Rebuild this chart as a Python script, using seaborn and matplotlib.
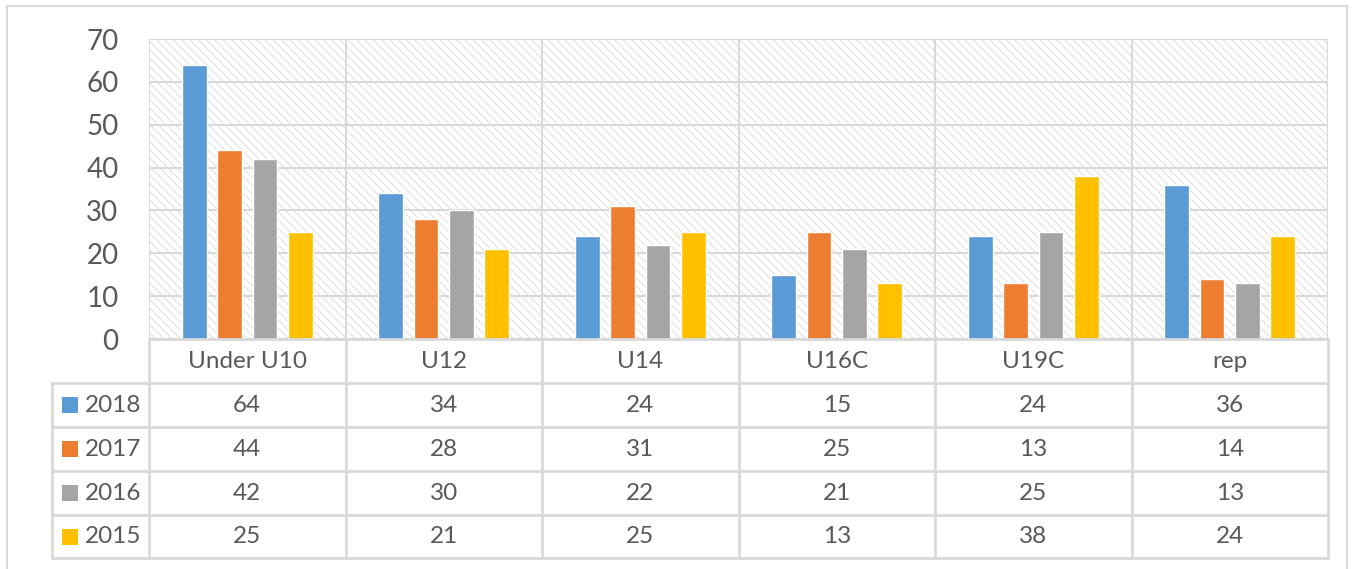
import matplotlib
matplotlib.use("Agg")
import matplotlib.pyplot as plt
import matplotlib.transforms as mtransforms
from matplotlib.patches import Rectangle
from matplotlib.lines import Line2D
import seaborn as sns
import pandas as pd

categories = ["Under U10", "U12", "U14", "U16C", "U19C", "rep"]
years = ["2018", "2017", "2016", "2015"]
v2018 = [64, 34, 24, 15, 24, 36]
v2017 = [44, 28, 31, 25, 13, 14]
v2016 = [42, 30, 22, 21, 25, 13]
v2015 = [25, 21, 25, 13, 38, 24]
colors = ["#5B9BD5", "#ED7D31", "#A5A5A5", "#FFC000"]

series = {"2018": v2018, "2017": v2017, "2016": v2016, "2015": v2015}
rows = []
for yr in years:
    for cat, val in zip(categories, series[yr]):
        rows.append({"group": cat, "year": yr, "count": val})
df = pd.DataFrame(rows)

sns.set_style("white")
plt.rcParams["font.family"] = ["Lato", "DejaVu Sans"]
plt.rcParams["hatch.color"] = "#d9d9d9"
plt.rcParams["hatch.linewidth"] = 0.6

W, H = 1357, 569
fig = plt.figure(figsize=(W / 100, H / 100), dpi=100)
grid_c = "#d9d9d9"
text_c = "#595959"

# plot area in pixels
left, right, top, bottom = 149, 1328, 39, 339
ax = fig.add_axes([left / W, 1 - bottom / H, (right - left) / W, (bottom - top) / H])

# hatched background
ax.add_patch(Rectangle((0, 0), 1, 1, transform=ax.transAxes, facecolor="white",
                       edgecolor=grid_c, hatch="\\\\\\\\", linewidth=0, zorder=0))

sns.barplot(data=df, x="group", y="count", hue="year", hue_order=years,
            order=categories, palette=colors, width=0.72, gap=0.3,
            saturation=1, ax=ax, legend=False, zorder=3)

ax.set_xlim(-0.5, len(categories) - 0.5)
ax.set_ylim(0, 70)
ax.set_yticks(range(0, 71, 10))
ax.yaxis.grid(True, color=grid_c, linewidth=1.5, zorder=1)
for b in range(len(categories) + 1):
    ax.axvline(b - 0.5, color=grid_c, linewidth=1.5, zorder=1)
for s in ax.spines.values():
    s.set_visible(False)
ax.set_xticks([])
ax.set_xlabel("")
ax.set_ylabel("")
ax.tick_params(axis="y", length=0, pad=22, labelsize=20, labelcolor=text_c)

# data table below the axis
def fy(px):
    return 1 - px / H

row_edges = [339, 383, 427, 471, 515, 558]
trans = mtransforms.blended_transform_factory(ax.transData, fig.transFigure)
lw = 2
fs = 17.5

# horizontal lines
fig.add_artist(Line2D([left / W, right / W], [fy(339)] * 2, color=grid_c, lw=lw))
for y in row_edges[1:]:
    fig.add_artist(Line2D([52 / W, right / W], [fy(y)] * 2, color=grid_c, lw=lw))
# vertical lines
for b in range(len(categories) + 1):
    fig.add_artist(Line2D([b - 0.5] * 2, [fy(339), fy(558)], transform=trans,
                          color=grid_c, lw=lw))
fig.add_artist(Line2D([52 / W] * 2, [fy(383), fy(558)], color=grid_c, lw=lw))

# category row
for i, cat in enumerate(categories):
    fig.text(i, fy((339 + 383) / 2), cat, transform=trans, ha="center",
             va="center", fontsize=fs, color=text_c)

# value rows
for r, yr in enumerate(years):
    yc = fy((row_edges[r + 1] + row_edges[r + 2]) / 2)
    fig.add_artist(Rectangle((62 / W, yc - 8 / H), 16 / W, 16 / H,
                             facecolor=colors[r], edgecolor="none"))
    fig.text(85 / W, yc, yr, ha="left", va="center", fontsize=fs, color=text_c)
    for i, val in enumerate(series[yr]):
        fig.text(i, yc, str(val), transform=trans, ha="center", va="center",
                 fontsize=fs, color=text_c)

# outer chart border
fig.add_artist(Rectangle((7 / W, -0.01), 1340 / W, fy(6) + 0.01, facecolor="none",
                         edgecolor=grid_c, lw=1.5))

fig.savefig("out.png", dpi=100)
plt.close(fig)
